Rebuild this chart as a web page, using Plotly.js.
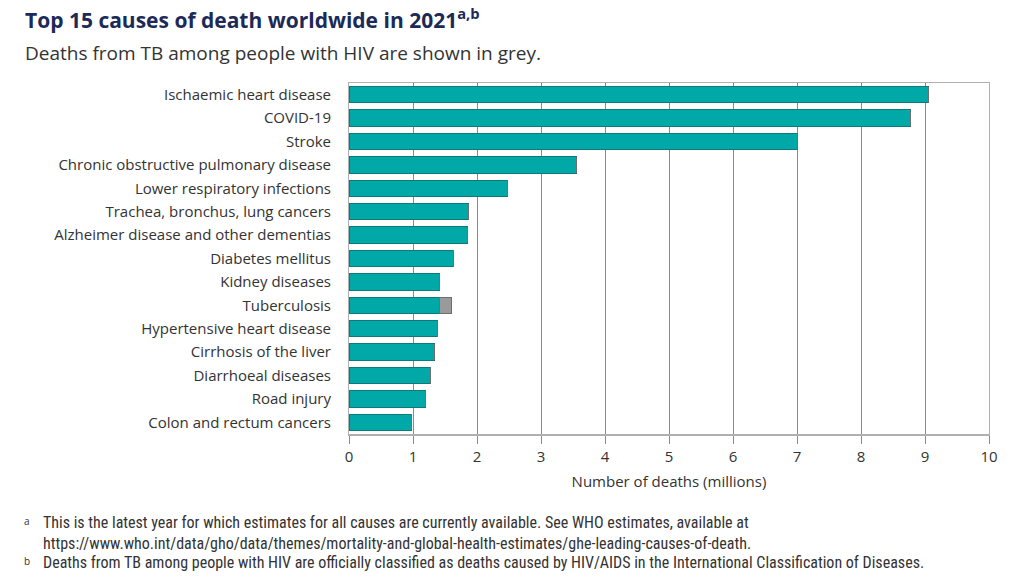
<!DOCTYPE html>
<html><head><meta charset="utf-8">
<script src="https://cdn.plot.ly/plotly-3.0.1.min.js"></script>
<style>html,body{margin:0;padding:0;background:#fff;}#chart{width:1024px;height:586px;}</style>
</head><body><div id="chart"></div>
<script>
const causes = ["Ischaemic heart disease","COVID-19","Stroke","Chronic obstructive pulmonary disease","Lower respiratory infections","Trachea, bronchus, lung cancers","Alzheimer disease and other dementias","Diabetes mellitus","Kidney diseases","Tuberculosis","Hypertensive heart disease","Cirrhosis of the liver","Diarrhoeal diseases","Road injury","Colon and rectum cancers"];
const mainDeaths = [9.06, 8.77, 7.0, 3.55, 2.48, 1.86, 1.85, 1.63, 1.41, 1.41, 1.39, 1.33, 1.27, 1.19, 0.97];
const tbHivDeaths = [0,0,0,0,0,0,0,0,0,0.19,0,0,0,0,0];
const xTicks = [0,1,2,3,4,5,6,7,8,9,10];

const font = '"Source Sans Pro","Open Sans","Noto Sans",sans-serif';
const narrow = '"Liberation Sans Narrow","Roboto Condensed",' + font;
const data = [
  {type:'bar', orientation:'h', y:causes, x:mainDeaths, marker:{color:'#00A8A8', line:{color:'#0B7A78', width:1}}, hoverinfo:'x+y', name:'Deaths'},
  {type:'bar', orientation:'h', y:causes, x:tbHivDeaths, marker:{color:'#9A9A9A', line:{color:'#6E6E6E', width:1}}, hoverinfo:'x+y', name:'TB among people with HIV'}
];
const L = -326/640;
const layout = {
  width:1024, height:586, barmode:'stack', bargap:0.3, showlegend:false,
  paper_bgcolor:'#fff', plot_bgcolor:'#fff',
  margin:{l:349, r:35, t:83, b:152},
  font:{family:font, color:'#333', size:15},
  xaxis:{range:[0,10], tickvals:xTicks, ticktext:xTicks.map(String), showgrid:true, gridcolor:'#8a8a8a', gridwidth:1, zeroline:false,
    showline:true, linecolor:'#b0b0b0', linewidth:1.5, mirror:true, ticks:'outside', ticklen:8, tickcolor:'#8a8a8a',
    tickfont:{size:15, color:'#333'}, title:{text:'Number of deaths (millions)', font:{size:15, color:'#333'}, standoff:12}, fixedrange:true},
  yaxis:{autorange:'reversed', showline:true, linecolor:'#b0b0b0', linewidth:1, mirror:true, ticks:'', showgrid:false,
    tickfont:{size:15, color:'#333'}, ticklabelstandoff:14, fixedrange:true},
  annotations:[
    {xref:'paper', yref:'paper', x:L, y:1, xanchor:'left', yanchor:'bottom', yshift:47, showarrow:false,
     text:'<b>Top 15 causes of death worldwide in 2021<sup>a,b</sup></b>', font:{size:21, color:'#1B2A57', family:font}},
    {xref:'paper', yref:'paper', x:L, y:1, xanchor:'left', yanchor:'bottom', yshift:15, showarrow:false,
     text:'Deaths from TB among people with HIV are shown in grey.', font:{size:19, color:'#333', family:font}},
    {xref:'paper', yref:'paper', x:-308/640, y:0, xanchor:'left', yanchor:'top', yshift:-77, showarrow:false, align:'left',
     text:'This is the latest year for which estimates for all causes are currently available. See WHO estimates, available at<br>https://www.who.int/data/gho/data/themes/mortality-and-global-health-estimates/ghe-leading-causes-of-death.',
     font:{size:16, color:'#333', family:narrow}},
    {xref:'paper', yref:'paper', x:-308/640, y:0, xanchor:'left', yanchor:'top', yshift:-117, showarrow:false, align:'left',
     text:'Deaths from TB among people with HIV are officially classified as deaths caused by HIV/AIDS in the International Classification of Diseases.',
     font:{size:16, color:'#333', family:narrow}},
    {xref:'paper', yref:'paper', x:-327/640, y:0, xanchor:'left', yanchor:'top', yshift:-78, showarrow:false, text:'a', font:{size:10, color:'#333'}},
    {xref:'paper', yref:'paper', x:-327/640, y:0, xanchor:'left', yanchor:'top', yshift:-118, showarrow:false, text:'b', font:{size:10, color:'#333'}}
  ]
};
Plotly.newPlot('chart', data, layout, {displayModeBar:false, staticPlot:true});
</script></body></html>
